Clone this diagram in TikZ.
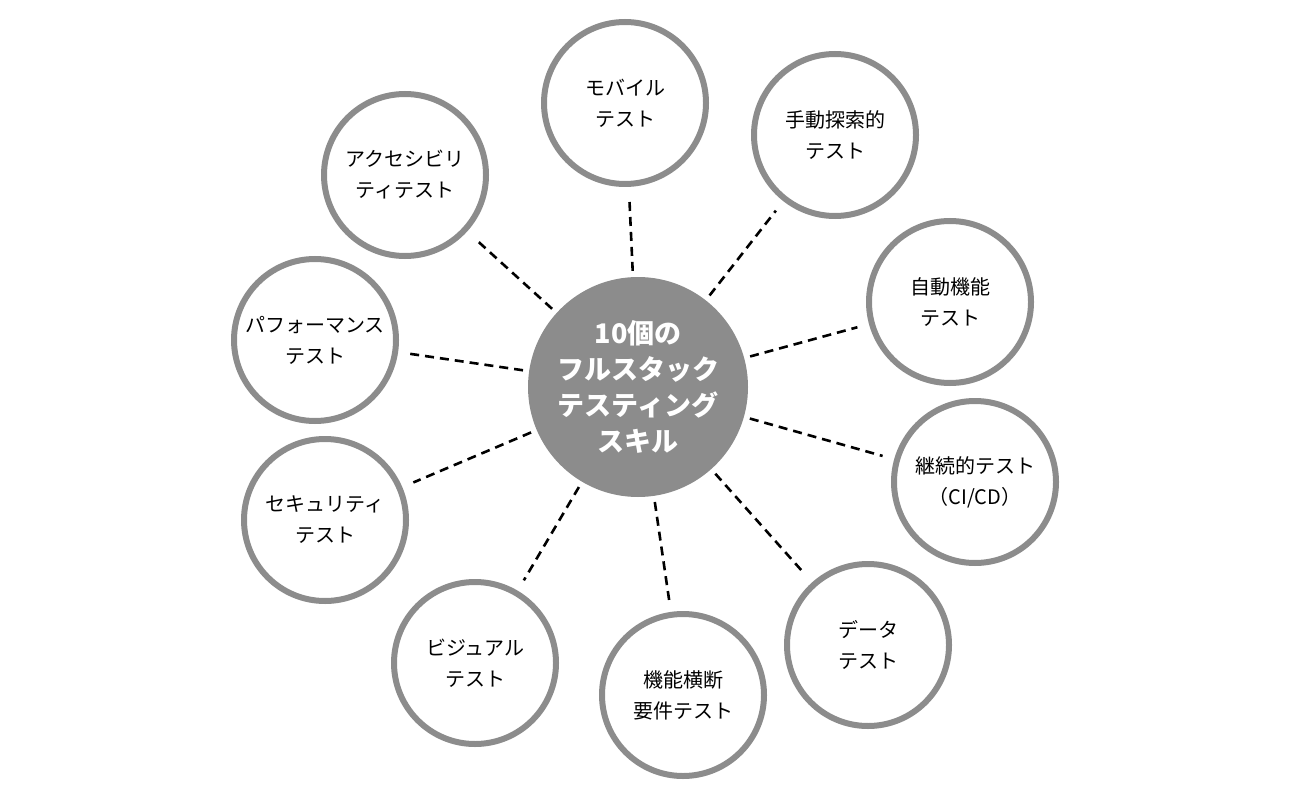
\documentclass[tikz,border=0pt]{standalone}
\usepackage{fontspec}
\setmainfont{Noto Sans CJK JP}
\definecolor{ringgray}{RGB}{140,140,140}
\tikzset{
  skill/.style={circle, draw=ringgray, line width=6pt, minimum size=162pt, inner sep=0pt,
    align=center, font=\fontsize{20}{31}\selectfont},
  hub/.style={circle, fill=ringgray, minimum size=220pt, inner sep=0pt, align=center,
    text=white, font=\fontsize{27}{36}\selectfont\bfseries},
  link/.style={line width=2.6pt, dash pattern=on 9pt off 6pt, shorten <=6pt, shorten >=12pt}
}
\begin{document}
\begin{tikzpicture}[x=1pt,y=-1pt]
  \useasboundingbox (0,0) rectangle (1300,794);
  \node[hub] (hub) at (638,387) {10個の\\フルスタック\\テスティング\\スキル};

  \node[skill] (mobile) at (625,103) {モバイル\\テスト};
  \node[skill] (manual) at (835,135) {手動探索的\\テスト};
  \node[skill] (auto) at (950,302) {自動機能\\テスト};
  \node[skill] (cicd) at (975,482) {継続的テスト\\（CI/CD）};
  \node[skill] (data) at (868,645) {データ\\テスト};
  \node[skill] (cross) at (683,695) {機能横断\\要件テスト};
  \node[skill] (visual) at (475,663) {ビジュアル\\テスト};
  \node[skill] (security) at (325,520) {セキュリティ\\テスト};
  \node[skill] (perf) at (315,340) {パフォーマンス\\テスト};
  \node[skill] (access) at (405,175) {アクセシビリ\\ティテスト};

  \foreach \s in {mobile,manual,auto,cicd,data,cross,visual,security,perf,access}
    \draw[link] (hub) -- (\s);
\end{tikzpicture}
\end{document}
